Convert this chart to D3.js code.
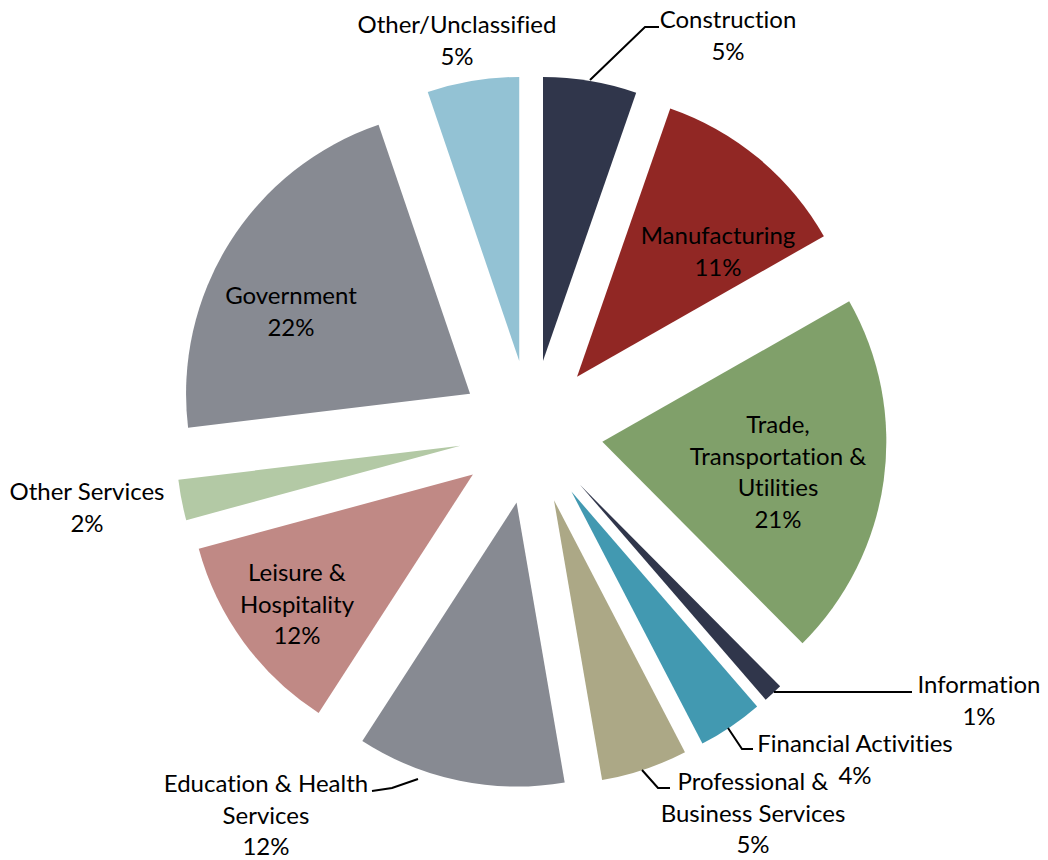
<!DOCTYPE html>
<html>
<head>
<meta charset="utf-8">
<script src="https://cdn.jsdelivr.net/npm/d3@7"></script>
<style>
  html, body { margin: 0; padding: 0; background: #ffffff; }
  svg { display: block; }
  text { font-family: Lato, "Open Sans", sans-serif; fill: #000000; font-variant-ligatures: none; }
</style>
</head>
<body>
<div id="chart"></div>
<script>
// employment share by sector (percent)
const categories = [
  "Construction", "Manufacturing", "Trade, Transportation & Utilities", "Information",
  "Financial Activities", "Professional & Business Services", "Education & Health Services",
  "Leisure & Hospitality", "Other Services", "Government", "Other/Unclassified"
];
const shares = [5.3, 11.4, 20.7, 1.1, 3.7, 4.9, 11.8, 11.6, 2.3, 21.6, 5.2];
const labelLines = [
  ["Construction"], ["Manufacturing"], ["Trade,", "Transportation &", "Utilities"], ["Information"],
  ["Financial Activities"], ["Professional &", "Business Services"], ["Education & Health", "Services"],
  ["Leisure &", "Hospitality"], ["Other Services"], ["Government"], ["Other/Unclassified"]
];

const sliceColours = [
  "#30364b", "#912724", "#80a06a", "#30364b", "#4299b1", "#aca886",
  "#878a92", "#c08985", "#b3c9a5", "#878a92", "#93c2d4"
];

// label placement: text anchor point and optional leader line
const labelLayout = [
  { x: 728, y: 28, leader: [[590, 80], [645, 27], [659, 27]] },
  { x: 718, y: 244 },
  { x: 778, y: 433 },
  { x: 979, y: 693, leader: [[774, 692], [912, 692]] },
  { x: 855, y: 752, leader: [[728, 728], [742, 749], [753, 749]] },
  { x: 753, y: 790, leader: [[642, 770], [658, 788], [670, 788]] },
  { x: 266, y: 792, leader: [[372, 791], [392, 788], [418, 779]] },
  { x: 297, y: 581 },
  { x: 87, y: 500 },
  { x: 291, y: 304 },
  { x: 457, y: 33 }
];

const width = 1048;
const height = 860;
const centerX = 531;
const centerY = 432;
const radius = 284;
const explode = 72;
const lineGap = 31.5;

const svg = d3.select("#chart")
  .append("svg")
  .attr("width", width)
  .attr("height", height);

const total = d3.sum(shares);

const pie = d3.pie()
  .sort(null)
  .value(d => d);

const arc = d3.arc()
  .innerRadius(0)
  .outerRadius(radius);

const slices = pie(shares);

const pieGroup = svg.append("g")
  .attr("transform", `translate(${centerX},${centerY})`);

pieGroup.selectAll("path.slice")
  .data(slices)
  .enter()
  .append("path")
  .attr("class", "slice")
  .attr("d", arc)
  .attr("fill", (d, i) => sliceColours[i])
  .attr("transform", d => {
    const mid = (d.startAngle + d.endAngle) / 2;
    return `translate(${explode * Math.sin(mid)},${-explode * Math.cos(mid)})`;
  });

const leaderLine = d3.line();

labelLayout.forEach((pos, i) => {
  if (pos.leader) {
    svg.append("path")
      .attr("d", leaderLine(pos.leader))
      .attr("fill", "none")
      .attr("stroke", "#000000")
      .attr("stroke-width", 2);
  }

  const pct = Math.round(shares[i] / total * 100) + "%";
  const lines = labelLines[i].concat([pct]);

  const label = svg.append("text")
    .attr("text-anchor", "middle")
    .attr("font-size", "24px");

  lines.forEach((line, k) => {
    label.append("tspan")
      .attr("x", pos.x)
      .attr("y", pos.y + k * lineGap)
      .text(line);
  });
});
</script>
</body>
</html>
